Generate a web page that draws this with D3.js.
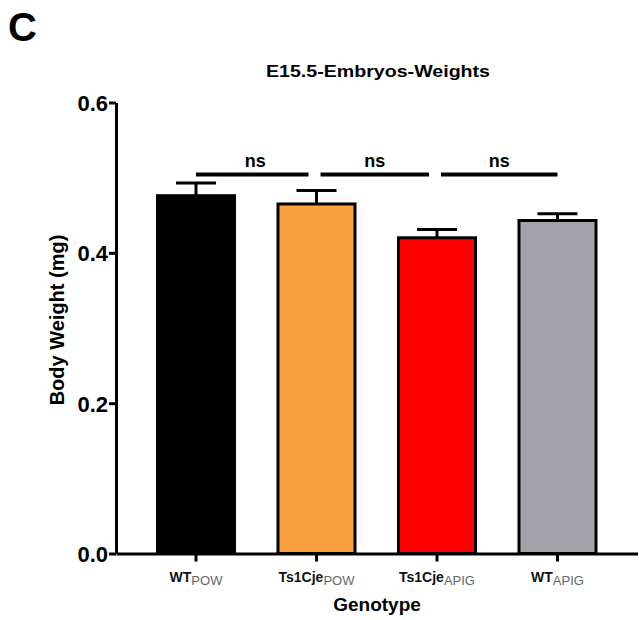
<!DOCTYPE html>
<html>
<head>
<meta charset="utf-8">
<script src="https://cdn.jsdelivr.net/npm/d3@7"></script>
<style>
  html, body { margin: 0; padding: 0; background: #fff; }
  svg { display: block; }
  text { font-family: "Liberation Sans", Arial, Helvetica, sans-serif; }
</style>
</head>
<body>
<svg id="chart" width="639" height="620"></svg>
<script>
// ---- data ----
const categories = ["WT", "Ts1Cje", "Ts1Cje", "WT"];
const subscripts = ["POW", "POW", "APIG", "APIG"];
const means = [0.476, 0.465, 0.420, 0.443];
const sems = [0.017, 0.018, 0.011, 0.009];
const colors = ["#000000", "#FBA040", "#FF0000", "#A3A2A8"];
const comparisons = [[0, 1, "ns"], [1, 2, "ns"], [2, 3, "ns"]];
const yTicks = [0.0, 0.2, 0.4, 0.6];
const title = "E15.5-Embryos-Weights";
const panelLabel = "C";
const yLabel = "Body Weight (mg)";
const xLabel = "Genotype";

// ---- layout ----
const svg = d3.select("#chart");
const ids = d3.range(categories.length);
const x = d3.scaleBand().domain(ids).range([116, 637.5]).paddingInner(0.336).paddingOuter(0.332);
const y = d3.scaleLinear().domain([0, 0.6]).range([553.5, 102.5]);

svg.append("text").attr("x", 8).attr("y", 41).attr("font-size", 40).attr("font-weight", "bold")
  .text(panelLabel);

svg.append("text").attr("x", 378).attr("y", 77).attr("text-anchor", "middle")
  .attr("font-size", 17).attr("font-weight", "bold").attr("textLength", 224).attr("lengthAdjust", "spacingAndGlyphs")
  .text(title);

// bars
const bw = x.bandwidth();
svg.append("g").selectAll("rect").data(ids).join("rect")
  .attr("x", i => x(i) + 1.5)
  .attr("y", i => y(means[i]))
  .attr("width", bw - 3)
  .attr("height", i => y(0) - y(means[i]))
  .attr("fill", i => colors[i])
  .attr("stroke", "#000").attr("stroke-width", 3);

// error bars
const eg = svg.append("g").attr("stroke", "#000").attr("stroke-width", 3);
ids.forEach(i => {
  const cx = x(i) + bw / 2;
  eg.append("line").attr("x1", cx).attr("x2", cx).attr("y1", y(means[i])).attr("y2", y(means[i] + sems[i]));
  eg.append("line").attr("x1", cx - bw / 4).attr("x2", cx + bw / 4)
    .attr("y1", y(means[i] + sems[i])).attr("y2", y(means[i] + sems[i]));
});

// y axis
const yAxis = d3.axisLeft(y).tickValues(yTicks).tickFormat(d3.format(".1f")).tickSize(7).tickSizeOuter(0);
const yg = svg.append("g").attr("transform", "translate(116,0)").call(yAxis);
yg.select(".domain").attr("stroke", "#000").attr("stroke-width", 3);
yg.selectAll(".tick line").attr("stroke", "#000").attr("stroke-width", 3);
yg.selectAll(".tick text").attr("font-size", 22).attr("font-weight", "bold").attr("fill", "#000")
  .attr("x", -8).attr("dy", "0.36em");

// x axis
const xAxis = d3.axisBottom(x).tickFormat(() => "").tickSize(8).tickSizeOuter(0);
const xg = svg.append("g").attr("transform", `translate(0,${y(0)})`).call(xAxis);
xg.select(".domain").attr("stroke", "#000").attr("stroke-width", 3);
xg.selectAll(".tick line").attr("stroke", "#000").attr("stroke-width", 3);
xg.selectAll(".tick text").remove();

const xl = svg.append("g");
ids.forEach(i => {
  const t = xl.append("text").attr("x", x(i) + bw / 2).attr("y", 582).attr("text-anchor", "middle");
  t.append("tspan").attr("font-size", 14).attr("font-weight", "bold").attr("fill", "#111").text(categories[i]);
  t.append("tspan").attr("font-size", 13).attr("fill", "#666").attr("dy", 3).text(subscripts[i]);
});

// axis titles
svg.append("text").attr("transform", `translate(64,320) rotate(-90)`)
  .attr("text-anchor", "middle").attr("font-size", 20).attr("font-weight", "bold").text(yLabel);
svg.append("text").attr("x", 377).attr("y", 611).attr("text-anchor", "middle")
  .attr("font-size", 19).attr("font-weight", "bold").text(xLabel);

// significance brackets
const bg = svg.append("g");
comparisons.forEach(([a, b, lab]) => {
  const x1 = x(a) + bw / 2 + (a === 0 ? 0 : 4);
  const x2 = x(b) + bw / 2 - (b === ids.length - 1 ? 0 : 8);
  bg.append("line").attr("x1", x1).attr("x2", x2).attr("y1", 174.5).attr("y2", 174.5)
    .attr("stroke", "#000").attr("stroke-width", 4);
  bg.append("text").attr("x", (x1 + x2) / 2 + (a === 0 ? 3 : 0)).attr("y", 167).attr("text-anchor", "middle")
    .attr("font-size", 18).attr("font-weight", "bold").text(lab);
});
</script>
</body>
</html>
